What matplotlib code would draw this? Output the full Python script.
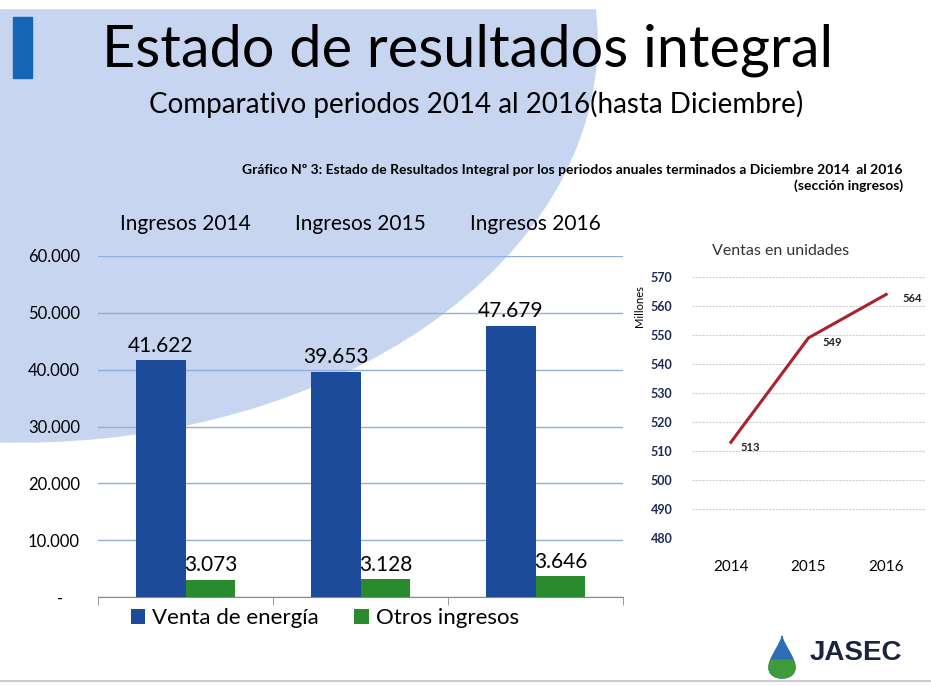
import matplotlib
matplotlib.use('Agg')
import matplotlib.pyplot as plt
from matplotlib.patches import Ellipse, Rectangle, Polygon
import numpy as np

plt.rcParams['font.family'] = ['Lato', 'DejaVu Sans']

# datos del grafico de barras (millones)
years = ['2014', '2015', '2016']
bar_cats = ['Ingresos 2014', 'Ingresos 2015', 'Ingresos 2016']
venta_energia = [41622, 39653, 47679]
otros_ingresos = [3073, 3128, 3646]
bar_yticks = [0, 10000, 20000, 30000, 40000, 50000, 60000]

# ventas en unidades (millones)
ventas = [513, 549, 564]
line_yticks = [480, 490, 500, 510, 520, 530, 540, 550, 560, 570]


def miles(v):
    # formato con punto de miles, cero como '-'
    return '-    ' if v == 0 else f'{v:,.0f}'.replace(',', '.')


fig = plt.figure(figsize=(9.31, 6.86), dpi=100)
W, H = 931, 686

# fondo: circulo azul claro y barra de acento
fig.patches.append(Ellipse((20 / W, 1 - 40 / H), 1154 / W, 804 / H,
                           transform=fig.transFigure, color='#c7d5f0', zorder=-5))
fig.patches.append(Rectangle((0, 1 - 8 / H), 1, 8 / H, transform=fig.transFigure,
                             color='white', zorder=-4))
fig.patches.append(Rectangle((13 / W, 1 - 78 / H), 19 / W, 61 / H,
                             transform=fig.transFigure, color='#1666b8', zorder=1))
fig.add_artist(plt.Line2D([0, 1], [1 - 681 / H] * 2, color='#cccccc', lw=1.5))

fig.text(468 / W, 1 - 50 / H, 'Estado de resultados integral', ha='center', va='center',
         fontsize=41.5, color='black')
fig.text(476 / W, 1 - 104 / H, 'Comparativo periodos 2014 al 2016(hasta Diciembre)',
         ha='center', va='center', fontsize=20, color='black')
fig.text(903 / W, 1 - 170 / H,
         'Gráfico Nº 3: Estado de Resultados Integral por los periodos anuales terminados a Diciembre 2014  al 2016',
         ha='right', va='center', fontsize=10, fontweight='bold')
fig.text(903 / W, 1 - 186 / H, '(sección ingresos)', ha='right', va='center',
         fontsize=10, fontweight='bold')

# ---- barras ----
ax = fig.add_axes([98 / W, 1 - 597 / H, 525 / W, 341 / H])
ax.set_facecolor('none')
x = np.arange(len(years))
bw = 0.285
b1 = ax.bar(x - bw / 2, venta_energia, bw, color='#1d4b9c', label='Venta de energía', zorder=3)
b2 = ax.bar(x + bw / 2, otros_ingresos, bw, color='#2a8a2e', label='Otros ingresos', zorder=3)
for r, v in zip(b1, venta_energia):
    ax.text(r.get_x() + r.get_width() / 2, v + 800, miles(v), ha='center', va='bottom',
            fontsize=15)
for r, v in zip(b2, otros_ingresos):
    ax.text(r.get_x() + r.get_width() / 2, v + 800, miles(v), ha='center', va='bottom',
            fontsize=15)

ax.set_xlim(-0.5, 2.5)
ax.set_ylim(0, 60000)
ax.set_yticks(bar_yticks)
ax.set_yticklabels([miles(v) for v in bar_yticks], fontsize=12)
ax.tick_params(axis='y', length=0, pad=13)
ax.set_xticks(x)
ax.set_xticklabels(bar_cats, fontsize=15)
ax.set_xticks([-0.5, 0.5, 1.5, 2.5], minor=True)
ax.tick_params(axis='x', which='major', top=True, labeltop=True, bottom=False,
               labelbottom=False, length=0, pad=16)
ax.tick_params(axis='x', which='minor', bottom=True, length=6, color='#888888')
ax.grid(axis='y', color='#8fb0dc', lw=1, zorder=0)
for s in ['top', 'right', 'left']:
    ax.spines[s].set_visible(False)
ax.spines['bottom'].set_color('#888888')
ax.legend(loc='center', bbox_to_anchor=(0.432, -0.062), ncol=2, frameon=False,
          fontsize=16, handlelength=0.65, handleheight=0.65, handletextpad=0.3,
          columnspacing=1.6)

# ---- linea ventas ----
ax2 = fig.add_axes([692 / W, 1 - 538 / H, 233 / W, 261 / H])
ax2.set_facecolor('none')
ax2.plot(x, ventas, color='#a8232b', lw=2.2)
offsets = [(7, -3.6), (10, -3.6), (11.5, -3)]
for xi, v, (dx, dy) in zip(x, ventas, offsets):
    ax2.annotate(str(v), (xi, v), xytext=(dx, dy), textcoords='offset points',
                 ha='left', va='center', fontsize=8, fontweight='bold', color='#222222')
ax2.set_xlim(-0.5, 2.5)
ax2.set_ylim(480, 570)
ax2.set_yticks(line_yticks)
ax2.set_yticklabels([str(v) for v in line_yticks], fontsize=9, fontweight='bold',
                    color='#1c2a55')
ax2.set_xticks(x)
ax2.set_xticklabels(years, fontsize=11)
ax2.tick_params(length=0)
ax2.tick_params(axis='y', pad=14)
ax2.tick_params(axis='x', pad=16)
ax2.grid(axis='y', color='#c8d0dc', lw=0.8, ls=(0, (2, 1)))
for s in ax2.spines.values():
    s.set_visible(False)
ax2.set_ylabel('Millones', fontsize=8, labelpad=2)
ax2.yaxis.set_label_coords(-0.20, 0.89)
ax2.set_title('Ventas en unidades', fontsize=11.5, color='#333333', pad=16, x=0.38)

# ---- logo JASEC ----
t = np.linspace(0, 2 * np.pi, 60)
dx = 782 / W + 12 / W * np.sin(t) * (1 - np.cos(t)) / 1.2
dy = 1 - 657 / H + 21 / H * np.cos(t)
fig.patches.append(Polygon(np.c_[dx, dy], closed=True, transform=fig.transFigure,
                           color='#2d6db5', zorder=2))
fig.patches.append(Polygon(np.c_[dx, np.minimum(dy, 1 - 660 / H)], closed=True,
                           transform=fig.transFigure, color='#3f9a3a', zorder=3))
fig.text(810 / W, 1 - 653 / H, 'JASEC', ha='left', va='center', fontsize=20,
         fontweight='bold', color='#1a2340', family=['Liberation Sans', 'DejaVu Sans'])

fig.savefig('out.png', dpi=100)
